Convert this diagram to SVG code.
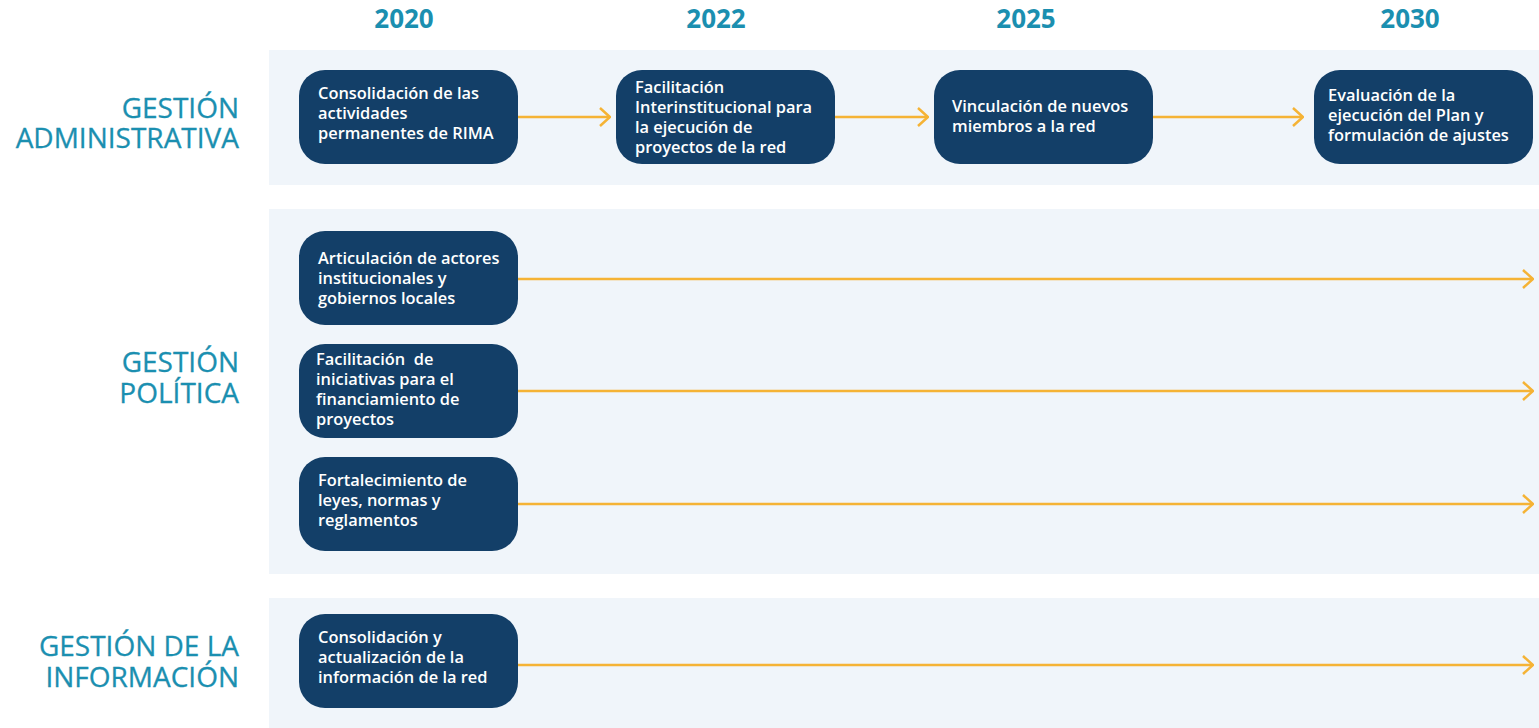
<svg xmlns="http://www.w3.org/2000/svg" width="1539" height="728" viewBox="0 0 1539 728">
<style>
.band{fill:#f0f5fa}
.node{fill:#133f68}
.nt{font-family:"Open Sans",sans-serif;font-weight:600;font-size:16.4px;fill:#ffffff}
.lab{font-family:"Open Sans",sans-serif;font-weight:500;font-size:28px;fill:#1b8fb0;text-anchor:end;stroke:#1b8fb0;stroke-width:0.3}
.yr{font-family:"Open Sans",sans-serif;font-weight:700;font-size:26px;fill:#1b8fb0;text-anchor:middle}
.con{stroke:#f5b335;stroke-width:2.5;fill:none}
</style>
<defs>
<marker id="chev" viewBox="0 0 12 20" refX="11" refY="10" markerWidth="12" markerHeight="20" markerUnits="userSpaceOnUse" orient="auto">
<path d="M1,1 L11,10 L1,19" fill="none" stroke="#f5b335" stroke-width="2.5"/>
</marker>
</defs>
<rect width="1539" height="728" fill="#ffffff"/>
<rect class="band" x="269" y="50" width="1270" height="135"/>
<rect class="band" x="269" y="209" width="1270" height="365"/>
<rect class="band" x="269" y="598" width="1270" height="130"/>
<g id="years">
<text class="yr" x="404" y="28">2020</text>
<text class="yr" x="716" y="28">2022</text>
<text class="yr" x="1026" y="28">2025</text>
<text class="yr" x="1410" y="28">2030</text>
</g>
<g id="labels">
<text class="lab"><tspan x="239" y="118">GESTIÓN</tspan><tspan x="239" y="148">ADMINISTRATIVA</tspan></text>
<text class="lab"><tspan x="239" y="372">GESTIÓN</tspan><tspan x="239" y="403">POLÍTICA</tspan></text>
<text class="lab"><tspan x="239" y="656">GESTIÓN DE LA</tspan><tspan x="239" y="687">INFORMACIÓN</tspan></text>
</g>
<g id="connectors">
<line class="con" x1="518" y1="117" x2="610" y2="117" marker-end="url(#chev)"/>
<line class="con" x1="835" y1="117" x2="928" y2="117" marker-end="url(#chev)"/>
<line class="con" x1="1153" y1="117" x2="1303" y2="117" marker-end="url(#chev)"/>
<line class="con" x1="518" y1="279" x2="1533" y2="279" marker-end="url(#chev)"/>
<line class="con" x1="518" y1="391" x2="1533" y2="391" marker-end="url(#chev)"/>
<line class="con" x1="518" y1="504" x2="1533" y2="504" marker-end="url(#chev)"/>
<line class="con" x1="518" y1="665" x2="1533" y2="665" marker-end="url(#chev)"/>
</g>
<g id="n1">
<rect class="node" x="299" y="70" width="219" height="94" rx="26"/>
<text class="nt" x="318" y="99">Consolidación de las</text>
<text class="nt" x="318" y="119">actividades</text>
<text class="nt" x="318" y="139">permanentes de RIMA</text>
</g>
<g id="n2">
<rect class="node" x="616" y="70" width="219" height="94" rx="26"/>
<text class="nt" x="635" y="93">Facilitación</text>
<text class="nt" x="635" y="113">Interinstitucional para</text>
<text class="nt" x="635" y="133">la ejecución de</text>
<text class="nt" x="635" y="153">proyectos de la red</text>
</g>
<g id="n3">
<rect class="node" x="934" y="70" width="219" height="94" rx="26"/>
<text class="nt" x="952" y="112">Vinculación de nuevos</text>
<text class="nt" x="952" y="132">miembros a la red</text>
</g>
<g id="n4">
<rect class="node" x="1314" y="70" width="219" height="94" rx="26"/>
<text class="nt" x="1328" y="101">Evaluación de la</text>
<text class="nt" x="1328" y="121">ejecución del Plan y</text>
<text class="nt" x="1328" y="141">formulación de ajustes</text>
</g>
<g id="n5">
<rect class="node" x="299" y="231" width="219" height="94" rx="26"/>
<text class="nt" x="318" y="264">Articulación de actores</text>
<text class="nt" x="318" y="284">institucionales y</text>
<text class="nt" x="318" y="304">gobiernos locales</text>
</g>
<g id="n6">
<rect class="node" x="299" y="344" width="219" height="94" rx="26"/>
<text class="nt" x="316" y="365" xml:space="preserve">Facilitación  de</text>
<text class="nt" x="316" y="385">iniciativas para el</text>
<text class="nt" x="316" y="405">financiamiento de</text>
<text class="nt" x="316" y="425">proyectos</text>
</g>
<g id="n7">
<rect class="node" x="299" y="457" width="219" height="94" rx="26"/>
<text class="nt" x="318" y="486">Fortalecimiento de</text>
<text class="nt" x="318" y="506">leyes, normas y</text>
<text class="nt" x="318" y="526">reglamentos</text>
</g>
<g id="n8">
<rect class="node" x="299" y="614" width="219" height="94" rx="26"/>
<text class="nt" x="318" y="643">Consolidación y</text>
<text class="nt" x="318" y="663">actualización de la</text>
<text class="nt" x="318" y="683">información de la red</text>
</g>
</svg>
